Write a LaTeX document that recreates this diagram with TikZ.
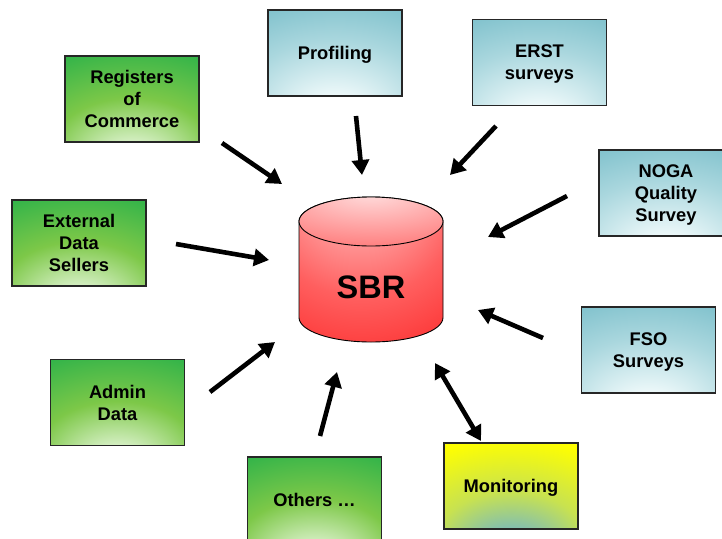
\documentclass[tikz,border=0pt]{standalone}
\usepackage{fontspec}
\setmainfont{Liberation Sans}
\usetikzlibrary{arrows.meta}
\definecolor{gdark}{RGB}{30,174,74}
\definecolor{gmid}{RGB}{125,200,72}
\definecolor{glight}{RGB}{222,243,208}
\definecolor{bdark}{RGB}{98,178,192}
\definecolor{bmid}{RGB}{170,215,222}
\definecolor{blight}{RGB}{238,249,250}
\definecolor{ydark}{RGB}{255,255,0}
\definecolor{ymid}{RGB}{200,226,80}
\definecolor{ylight}{RGB}{105,178,210}
\definecolor{rdark}{RGB}{250,8,8}
\definecolor{rmid}{RGB}{255,95,95}
\definecolor{rlight}{RGB}{255,222,222}
\pgfdeclareradialshading{greenbox}{\pgfpoint{0bp}{-38bp}}{color(0bp)=(glight);color(8bp)=(glight);color(30bp)=(gmid);color(60bp)=(gdark);color(130bp)=(gdark)}
\pgfdeclareradialshading{bluebox}{\pgfpoint{0bp}{-38bp}}{color(0bp)=(blight);color(10bp)=(blight);color(35bp)=(bmid);color(68bp)=(bdark);color(130bp)=(bdark)}
\pgfdeclareradialshading{yellowbox}{\pgfpoint{0bp}{-40bp}}{color(0bp)=(ylight);color(6bp)=(ylight);color(28bp)=(ymid);color(52bp)=(ydark);color(130bp)=(ydark)}
\pgfdeclareradialshading{redbody}{\pgfpoint{-5bp}{35bp}}{color(0bp)=(rlight);color(35bp)=(rmid);color(72bp)=(rdark);color(130bp)=(rdark)}
\pgfdeclareradialshading{redtop}{\pgfpoint{0bp}{30bp}}{color(0bp)=(rlight);color(60bp)=(rmid);color(120bp)=(rmid)}
\begin{document}
\begin{tikzpicture}[x=1pt,y=-1pt,
  box/.style={draw=black!85,line width=1.1pt,minimum width=134pt,minimum height=86pt,
    inner sep=0pt,align=center,text depth=0pt,font=\bfseries\fontsize{18.3}{22}\selectfont},
  gbox/.style={box,shading=greenbox},
  bbox/.style={box,shading=bluebox},
  ybox/.style={box,shading=yellowbox},
  arr/.style={line width=4.6pt,-{Triangle[length=15pt,width=17pt]}},
  darr/.style={line width=4.6pt,{Triangle[length=15pt,width=17pt]}-{Triangle[length=15pt,width=17pt]}}]
\useasboundingbox (0,0) rectangle (722,538);
% boxes
\node[gbox] (reg) at (132,99) {Registers\\of\\Commerce};
\node[bbox] (prof) at (335,53) {Profiling};
\node[bbox] (erst) at (539.5,62.5) {ERST\\surveys};
\node[bbox] (noga) at (666,193) {NOGA\\Quality\\Survey};
\node[gbox] (ext) at (79,243) {External\\Data\\Sellers};
\node[bbox] (fso) at (648.5,350) {FSO\\Surveys};
\node[gbox] (adm) at (117.5,402.5) {Admin\\Data};
\node[gbox] (oth) at (314.5,500) {Others \ldots};
\node[ybox] (mon) at (511,486) {Monitoring};
% cylinder
\shade[shading=redbody,draw=black,line width=0.9pt] (299,221.5) -- (299,317.5)
  arc[start angle=180,end angle=0,x radius=72,y radius=24.5] -- (443,221.5)
  arc[start angle=0,end angle=-180,x radius=72,y radius=24.5] -- cycle;
\shade[shading=redtop,draw=black,line width=0.9pt] (371,221.5) ellipse [x radius=72,y radius=24.5];
\node[font=\bfseries\fontsize{32.5}{36}\selectfont] (sbr) at (371,287) {SBR};
% arrow end points
\coordinate (t1) at (222,143); \coordinate (h1) at (282,184);
\coordinate (t2) at (356,116); \coordinate (h2) at (362,175);
\coordinate (t3) at (496,126); \coordinate (h3) at (450,175);
\coordinate (t4) at (567,196); \coordinate (h4) at (488,237);
\coordinate (t5) at (176,244); \coordinate (h5) at (269,260);
\coordinate (t6) at (543,338); \coordinate (h6) at (478,310);
\coordinate (t7) at (210,392); \coordinate (h7) at (275,342);
\coordinate (t8) at (320,436); \coordinate (h8) at (337,372);
\coordinate (t9) at (481,441); \coordinate (h9) at (435,363);
\draw[arr] (t1) -- (h1);
\draw[arr] (t2) -- (h2);
\draw[arr] (t3) -- (h3);
\draw[arr] (t4) -- (h4);
\draw[arr] (t5) -- (h5);
\draw[arr] (t6) -- (h6);
\draw[arr] (t7) -- (h7);
\draw[arr] (t8) -- (h8);
\draw[darr] (t9) -- (h9);
\end{tikzpicture}
\end{document}
